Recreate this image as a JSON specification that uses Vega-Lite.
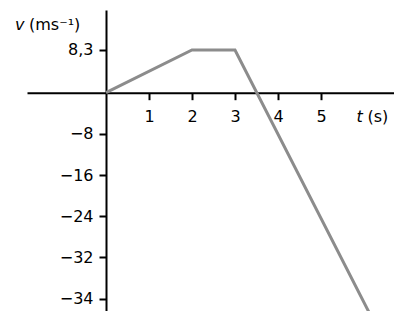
{
  "$schema": "https://vega.github.io/schema/vega-lite/v6.json",
  "width": 367,
  "height": 301,
  "autosize": "none",
  "padding": {"left": 27, "top": 10, "right": 0, "bottom": 0},
  "background": "white",
  "config": {
    "view": {"stroke": null},
    "font": "DejaVu Sans",
    "axis": {"grid": false, "domainColor": "black", "domainWidth": 2, "tickColor": "black", "tickWidth": 2, "labelColor": "black", "labelFont": "DejaVu Sans", "labelFontSize": 16, "title": null}
  },
  "layer": [
    {
      "data": {"values": [
        {"t": 0, "v": 0},
        {"t": 2, "v": 8.3},
        {"t": 3, "v": 8.3},
        {"t": 6.2, "v": -44}
      ]},
      "mark": {"type": "line", "color": "#8c8c8c", "strokeWidth": 3, "clip": true},
      "encoding": {
        "x": {"field": "t", "type": "quantitative", "scale": {"domain": [-1.837, 6.698], "nice": false, "zero": false},
          "axis": {"values": [1, 2, 3, 4, 5], "offset": -218.3, "tickSize": 7, "labelPadding": 9, "domainCap": "butt"}},
        "y": {"field": "v", "type": "quantitative", "scale": {"domain": [-42.39, 16.06], "nice": false, "zero": false},
          "axis": {"values": [8.3, -8, -16, -24, -32, -40], "offset": -79, "tickSize": 7, "labelPadding": 6,
            "labelExpr": "datum.value == -40 ? '−34' : datum.value == 8.3 ? '8,3' : '−' + abs(datum.value)"}}
      }
    },
    {
      "data": {"values": [
        {"label": "v", "t": -2.116, "v": 13.24},
        {"label": "t", "t": 5.826, "v": -4.66}
      ]},
      "mark": {"type": "text", "align": "left", "baseline": "middle", "fontSize": 16, "fontStyle": "italic", "color": "black"},
      "encoding": {
        "x": {"field": "t", "type": "quantitative"},
        "y": {"field": "v", "type": "quantitative"},
        "text": {"field": "label"}
      }
    },
    {
      "data": {"values": [
        {"label": "(ms⁻¹)", "t": -1.79, "v": 13.24},
        {"label": "(s)", "t": 6.08, "v": -4.66}
      ]},
      "mark": {"type": "text", "align": "left", "baseline": "middle", "fontSize": 16, "color": "black"},
      "encoding": {
        "x": {"field": "t", "type": "quantitative"},
        "y": {"field": "v", "type": "quantitative"},
        "text": {"field": "label"}
      }
    }
  ]
}
